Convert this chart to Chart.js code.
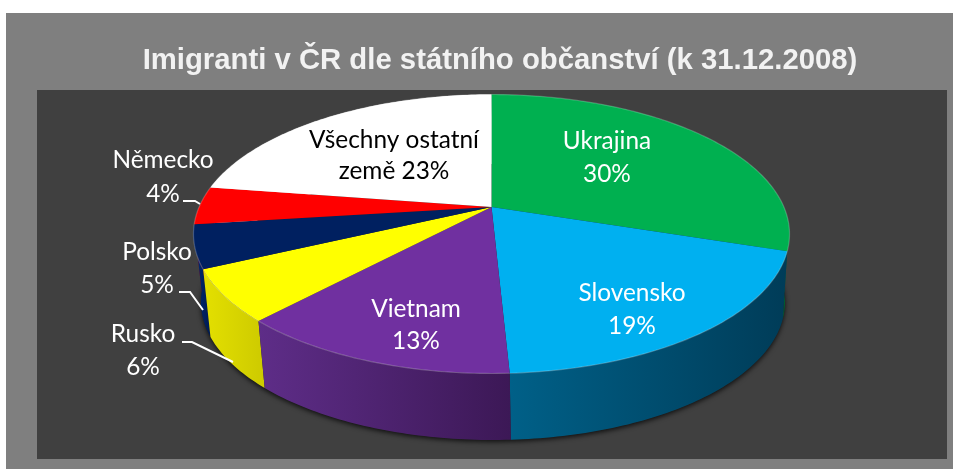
<!DOCTYPE html>
<html><head><meta charset="utf-8">
<style>html,body{margin:0;padding:0;background:#fff}#w{position:absolute;left:0;top:0;width:953px;height:469px}</style>
<script src="https://cdn.jsdelivr.net/npm/chart.js@4/dist/chart.umd.js"></script>
</head><body><div id="w"><canvas id="c" width="953" height="469"></canvas></div>
<script>
const categories = ['Ukrajina','Slovensko','Vietnam','Rusko','Polsko','Německo','Všechny ostatní země'];
const shares = [30,19.2,12.8,6,5,4.4,22.6];
const faceColors = ['#00B050','#00B0F0','#7030A0','#FFFF00','#002060','#FF0000','#FFFFFF'];
const wallFrom = ['#00703a','#006088','#5e2d88','#e4e000','#002a78','#a00000','#bbbbbb'];
const wallTo   = ['#005a30','#003c58','#3c1856','#cdca00','#001a50','#a00000','#bbbbbb'];
const labelLines = [['Ukrajina'],['Slovensko'],['Vietnam'],['Rusko'],['Polsko'],['Německo'],['Všechny ostatní','země']];
const labelPos = [[607,141,33],[632,293,33],[416,309,32],[143,334,33],[157,252,33],[163,160,34],[394,140,31]];
const leaders = [null,null,null,[[182,342],[192,342],[233,362]],[[179,292],[190,292],[203,310]],[[183,201],[195,201],[200,204]],null];

// perspective geometry of the tilted disc
const G = {cx:491.5, cy:234, a:292.4, ry:139.5, apex:-27, k:-0.1935, rx:298};
const B = {cx:493, cy:302, rx:292, ry:138};
function topPoint(angle){
  const th = angle + Math.PI/2, u = Math.sin(th), v = -Math.cos(th), d = 1 + G.k*v;
  return [G.cx + G.a*u/d, G.cy + (G.ry*v + G.apex)/d];
}
function basePoint(p){
  const c = (p[0]-G.cx)/G.rx, s = (p[1]-G.cy)/G.ry;
  return [B.cx + B.rx*c, B.cy + B.ry*s];
}
function rim(s,e){const n=Math.max(4,Math.ceil((e-s)*60)),o=[];for(let i=0;i<=n;i++)o.push(topPoint(s+(e-s)*i/n));return o;}

const ArcProto = Chart.registry.getElement('arc').prototype;
ArcProto.draw = function(ctx){
  const pts = rim(this.startAngle,this.endAngle), ap = [G.cx, G.cy+G.apex];
  ctx.save();
  ctx.beginPath(); ctx.moveTo(ap[0],ap[1]);
  pts.forEach(p=>ctx.lineTo(p[0],p[1]));
  ctx.closePath();
  ctx.fillStyle = this.options.backgroundColor;
  ctx.fill();
  ctx.beginPath();
  pts.forEach((p,i)=>i?ctx.lineTo(p[0],p[1]):ctx.moveTo(p[0],p[1]));
  ctx.strokeStyle='rgba(255,255,255,.22)'; ctx.lineWidth=1.2; ctx.stroke();
  ctx.restore();
};

const pieDeco = {
  id:'pieDeco',
  beforeDraw(chart){
    const c = chart.ctx;
    c.save();
    c.fillStyle='#fff'; c.fillRect(0,0,953,469);
    c.fillStyle='#7f7f7f'; c.fillRect(6,13,947,456);
    c.fillStyle='#404040'; c.fillRect(37,90,910,369);
    c.restore();
  },
  beforeDatasetsDraw(chart){
    const c = chart.ctx, arcs = chart.getDatasetMeta(0).data;
    c.save();
    c.shadowColor='rgba(0,0,0,.75)'; c.shadowBlur=5; c.shadowOffsetY=2;
    c.fillStyle='#222';
    c.beginPath(); c.ellipse(B.cx,B.cy,B.rx,B.ry,0,0,Math.PI*2); c.fill();
    c.restore();
    [5,6,0,4,1,3,2].forEach(i=>{
      const arc = arcs[i], t = rim(arc.startAngle,arc.endAngle), b = t.map(basePoint);
      const xs = t.map(p=>p[0]).concat(b.map(p=>p[0]));
      const g = c.createLinearGradient(Math.min(...xs),0,Math.max(...xs),0);
      g.addColorStop(0,wallFrom[i]); g.addColorStop(1,wallTo[i]);
      c.beginPath();
      t.forEach((p,j)=>j?c.lineTo(p[0],p[1]):c.moveTo(p[0],p[1]));
      b.reverse().forEach(p=>c.lineTo(p[0],p[1]));
      c.closePath(); c.fillStyle=g; c.fill();
    });
  },
  afterDatasetsDraw(chart){
    const c = chart.ctx;
    c.save();
    c.textAlign='center'; c.textBaseline='middle';
    c.font='24.4px Lato';
    categories.forEach((name,i)=>{
      const [x,y,lh] = labelPos[i], val = Math.round(shares[i])+'%';
      const lines = labelLines[i].slice();
      if(lines.length>1) lines[1]+=' '+val; else lines.push(val);
      c.fillStyle = i===6 ? '#000' : '#fff';
      lines.forEach((t,j)=>c.fillText(t,x,y+j*lh));
      const l = leaders[i];
      if(l){
        c.beginPath(); l.forEach((p,j)=>j?c.lineTo(p[0],p[1]):c.moveTo(p[0],p[1]));
        c.strokeStyle='#fff'; c.lineWidth=2; c.stroke();
      }
    });
    c.restore();
  }
};

new Chart(document.getElementById('c'),{
  type:'pie',
  data:{labels:categories,datasets:[{data:shares,backgroundColor:faceColors,borderWidth:0}]},
  plugins:[pieDeco],
  options:{
    responsive:false,animation:false,
    layout:{padding:{left:53,right:6,top:0,bottom:10}},
    plugins:{
      legend:{display:false},tooltip:{enabled:false},
      title:{display:true,text:'Imigranti v ČR dle státního občanství (k 31.12.2008)',
        color:'#f2f2f2',font:{family:'"Liberation Sans"',size:29.3,weight:'bold'},padding:{top:43,bottom:12}}
    }
  }
});
</script></body></html>
